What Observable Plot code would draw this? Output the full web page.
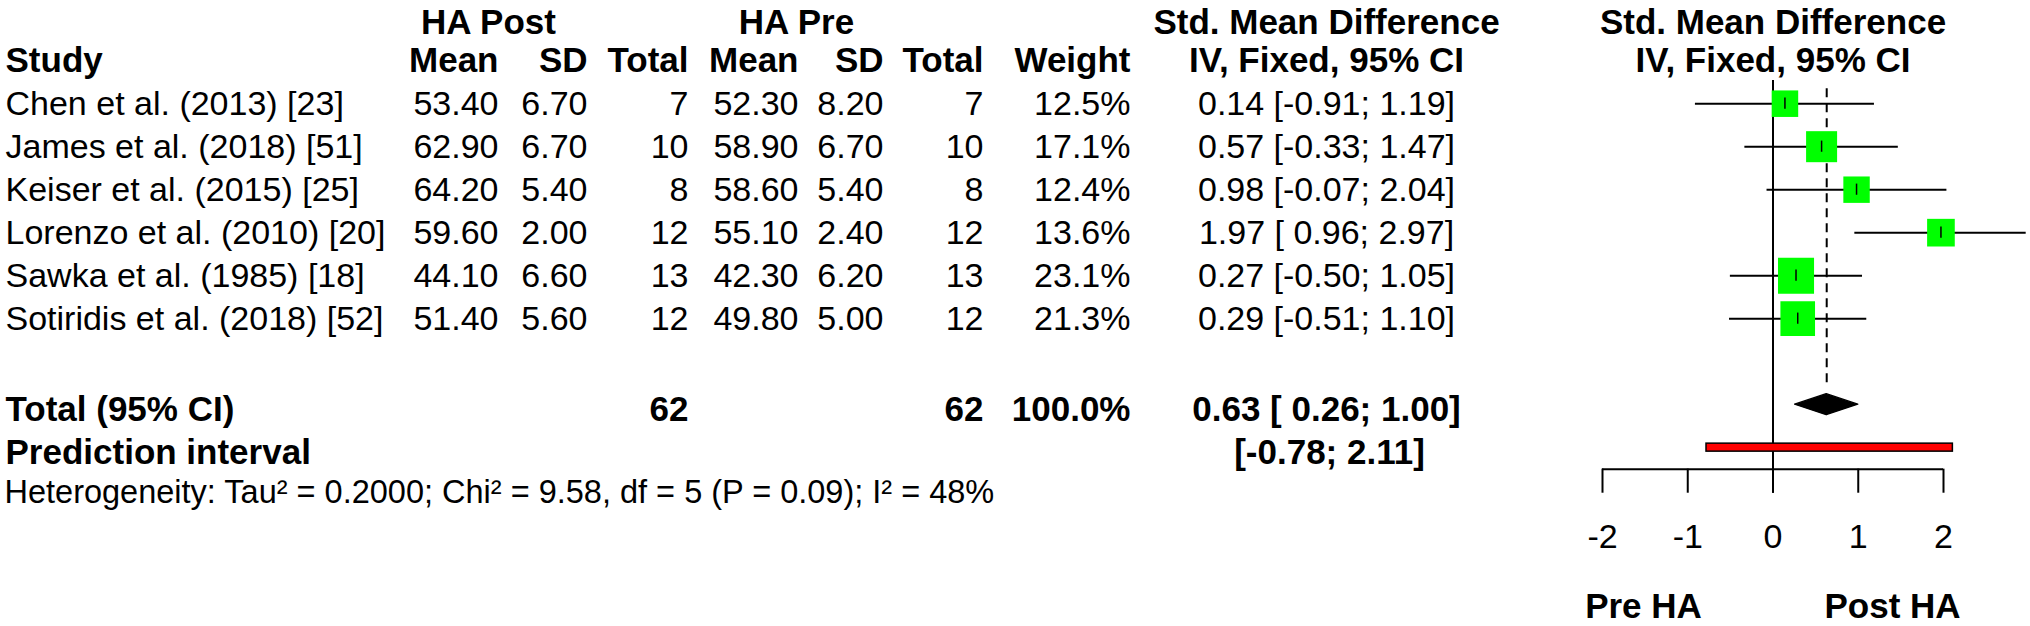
<!DOCTYPE html>
<html>
<head>
<meta charset="utf-8">
<script src="https://cdn.jsdelivr.net/npm/d3@7"></script>
<script src="https://cdn.jsdelivr.net/npm/@observablehq/plot@0.6"></script>
<style>
  html, body { margin: 0; padding: 0; background: #ffffff; }
  #chart svg { display: block; }
</style>
</head>
<body>
<div id="chart"></div>
<script>
// ---------- data ----------
const studies = ["Chen et al. (2013) [23]", "James et al. (2018) [51]", "Keiser et al. (2015) [25]",
                 "Lorenzo et al. (2010) [20]", "Sawka et al. (1985) [18]", "Sotiridis et al. (2018) [52]"];
const postMean = [53.40, 62.90, 64.20, 59.60, 44.10, 51.40];
const postSD   = [6.70, 6.70, 5.40, 2.00, 6.60, 5.60];
const postN    = [7, 10, 8, 12, 13, 12];
const preMean  = [52.30, 58.90, 58.60, 55.10, 42.30, 49.80];
const preSD    = [8.20, 6.70, 5.40, 2.40, 6.20, 5.00];
const preN     = [7, 10, 8, 12, 13, 12];
const weight   = [12.5, 17.1, 12.4, 13.6, 23.1, 21.3];
const smd      = [0.14, 0.57, 0.98, 1.97, 0.27, 0.29];
const ciLower  = [-0.91, -0.33, -0.07, 0.96, -0.50, -0.51];
const ciUpper  = [1.19, 1.47, 2.04, 2.97, 1.05, 1.10];

const totalPost = 62;
const totalPre = 62;
const totalWeight = 100.0;
const pooledSMD = 0.63;
const pooledLower = 0.26;
const pooledUpper = 1.00;
const predLower = -0.78;
const predUpper = 2.11;
const heterogeneity = "Heterogeneity: Tau\u00B2 = 0.2000; Chi\u00B2 = 9.58, df = 5 (P = 0.09); I\u00B2 = 48%";
const xTicks = [-2, -1, 0, 1, 2];
const leftLabel = "Pre HA";
const rightLabel = "Post HA";

// ---------- derived table ----------
const f2 = v => v.toFixed(2);
const fci = v => (v >= 0 ? " " : "") + v.toFixed(2);
const ciText = (lo, hi) => `[${fci(lo)}; ${f2(hi)}]`;
const rows = studies.map((s, i) => ({
  row: i, study: s,
  pm: f2(postMean[i]), ps: f2(postSD[i]), pn: String(postN[i]),
  rm: f2(preMean[i]), rs: f2(preSD[i]), rn: String(preN[i]),
  w: weight[i].toFixed(1) + "%", weight: weight[i],
  smd: smd[i], lo: ciLower[i], hi: ciUpper[i],
  eff: `${f2(smd[i])} ${ciText(ciLower[i], ciUpper[i])}`
}));

const TOTAL_ROW = 7, PRED_ROW = 8, HET_ROW = 9.04;
const AXIS_ROW = 8.5, TICK_LEN = 0.56, TICKLAB_ROW = 10.09, DIR_ROW = 11.86;
const FS = 34, FSB = 35, FONT = "Liberation Sans, Arial, Helvetica, sans-serif";

const col = (data, text, dx, anchor, opts = {}) =>
  Plot.text(data, {y: "row", text, frameAnchor: "left", dx, textAnchor: anchor,
                   fontSize: FS, fill: "black", ...opts});

const header = (label, row, dx, anchor, dy = 0) =>
  Plot.text([label], {y: () => row, text: d => d, frameAnchor: "left", dx, dy, textAnchor: anchor,
                      fontSize: FSB, fontWeight: "bold", fill: "black"});

const diamond = [
  {x: pooledLower, y1: TOTAL_ROW, y2: TOTAL_ROW},
  {x: pooledSMD, y1: TOTAL_ROW - 0.244, y2: TOTAL_ROW + 0.244},
  {x: pooledUpper, y1: TOTAL_ROW, y2: TOTAL_ROW}
];

const chart = Plot.plot({
  width: 2030,
  height: 626,
  margin: 0,
  style: {fontFamily: FONT, background: "white", color: "black"},
  x: {domain: [-2, 2], range: [1602, 1943], axis: null},
  y: {domain: [-2.4, 12.16], range: [0, 626], axis: null},
  r: {type: "sqrt", domain: [0, 25], range: [0, 21.16]},
  marks: [
    // headers
    header("HA Post", -2, 488, "middle", 5),
    header("HA Pre", -2, 796, "middle", 5),
    header("Std. Mean Difference", -2, 1326, "middle", 5),
    header("IV, Fixed, 95% CI", -1, 1326, "middle"),
    Plot.text(["Std. Mean Difference"], {x: () => 0, y: () => -2, dy: 5, text: d => d, fontSize: FSB, fontWeight: "bold", fill: "black"}),
    Plot.text(["IV, Fixed, 95% CI"], {x: () => 0, y: () => -1, text: d => d, fontSize: FSB, fontWeight: "bold", fill: "black"}),
    header("Study", -1, 5, "start"),
    header("Mean", -1, 498, "end"),
    header("SD", -1, 587, "end"),
    header("Total", -1, 688, "end"),
    header("Mean", -1, 798, "end"),
    header("SD", -1, 883, "end"),
    header("Total", -1, 983, "end"),
    header("Weight", -1, 1130, "end"),

    // study rows
    col(rows, "study", 5, "start"),
    col(rows, "pm", 498, "end"),
    col(rows, "ps", 587, "end"),
    col(rows, "pn", 688, "end"),
    col(rows, "rm", 798, "end"),
    col(rows, "rs", 883, "end"),
    col(rows, "rn", 983, "end"),
    col(rows, "w", 1130, "end"),
    col(rows, "eff", 1326, "middle"),

    // totals
    Plot.text(["Total (95% CI)"], {y: () => TOTAL_ROW, text: d => d, frameAnchor: "left", dx: 5, dy: 5, textAnchor: "start", fontSize: FSB, fontWeight: "bold"}),
    Plot.text([totalPost], {y: () => TOTAL_ROW, text: d => String(d), frameAnchor: "left", dx: 688, dy: 5, textAnchor: "end", fontSize: FSB, fontWeight: "bold"}),
    Plot.text([totalPre], {y: () => TOTAL_ROW, text: d => String(d), frameAnchor: "left", dx: 983, dy: 5, textAnchor: "end", fontSize: FSB, fontWeight: "bold"}),
    Plot.text([totalWeight], {y: () => TOTAL_ROW, text: d => d.toFixed(1) + "%", frameAnchor: "left", dx: 1130, dy: 5, textAnchor: "end", fontSize: FSB, fontWeight: "bold"}),
    Plot.text([pooledSMD], {y: () => TOTAL_ROW, text: d => `${f2(d)} ${ciText(pooledLower, pooledUpper)}`, frameAnchor: "left", dx: 1326, dy: 5, textAnchor: "middle", fontSize: FSB, fontWeight: "bold"}),
    Plot.text(["Prediction interval"], {y: () => PRED_ROW, text: d => d, frameAnchor: "left", dx: 5, dy: 5, textAnchor: "start", fontSize: FSB, fontWeight: "bold"}),
    Plot.text([predLower], {y: () => PRED_ROW, text: d => ciText(d, predUpper), frameAnchor: "left", dx: 1329, dy: 5, textAnchor: "middle", fontSize: FSB, fontWeight: "bold"}),
    Plot.text([heterogeneity], {y: () => HET_ROW, text: d => d, frameAnchor: "left", dx: 4, textAnchor: "start", fontSize: 32.5}),

    // forest: reference lines
    Plot.ruleX([0], {x: d => d, y1: () => -0.54, y2: () => AXIS_ROW + TICK_LEN, stroke: "black", strokeWidth: 2}),
    Plot.ruleX([pooledSMD], {x: d => d, y1: () => -0.35, y2: () => 6.62, stroke: "black", strokeWidth: 2, strokeDasharray: "9,6"}),

    // study CIs, squares, estimate ticks
    Plot.ruleY(rows, {y: "row", x1: "lo", x2: "hi", stroke: "black", strokeWidth: 2}),
    Plot.dot(rows, {x: "smd", y: "row", r: "weight", symbol: "square", fill: "#00ff00", stroke: null}),
    Plot.ruleX(rows, {x: "smd", y1: d => d.row - 0.13, y2: d => d.row + 0.13, stroke: "black", strokeWidth: 1.5}),

    // pooled diamond
    Plot.areaY(diamond, {x: "x", y1: "y1", y2: "y2", fill: "black", stroke: "black", strokeWidth: 1.5}),

    // prediction interval bar
    Plot.rect([predLower], {x1: d => d, x2: () => predUpper, y1: () => PRED_ROW - 0.093, y2: () => PRED_ROW + 0.093, fill: "red", stroke: "black", strokeWidth: 1.5}),

    // axis
    Plot.ruleY([AXIS_ROW], {y: d => d, x1: () => xTicks[0], x2: () => xTicks[xTicks.length - 1], stroke: "black", strokeWidth: 2}),
    Plot.ruleX(xTicks, {x: d => d, y1: () => AXIS_ROW, y2: () => AXIS_ROW + TICK_LEN, stroke: "black", strokeWidth: 2}),
    Plot.text(xTicks, {x: d => d, y: () => TICKLAB_ROW, text: d => String(d), fontSize: FS, fill: "black"}),
    Plot.text([leftLabel], {y: () => DIR_ROW, text: d => d, frameAnchor: "left", dx: 1643, dy: -7, textAnchor: "middle", fontSize: FSB, fontWeight: "bold"}),
    Plot.text([rightLabel], {y: () => DIR_ROW, text: d => d, frameAnchor: "left", dx: 1892, dy: -7, textAnchor: "middle", fontSize: FSB, fontWeight: "bold"})
  ]
});
document.getElementById("chart").appendChild(chart);
</script>
</body>
</html>
